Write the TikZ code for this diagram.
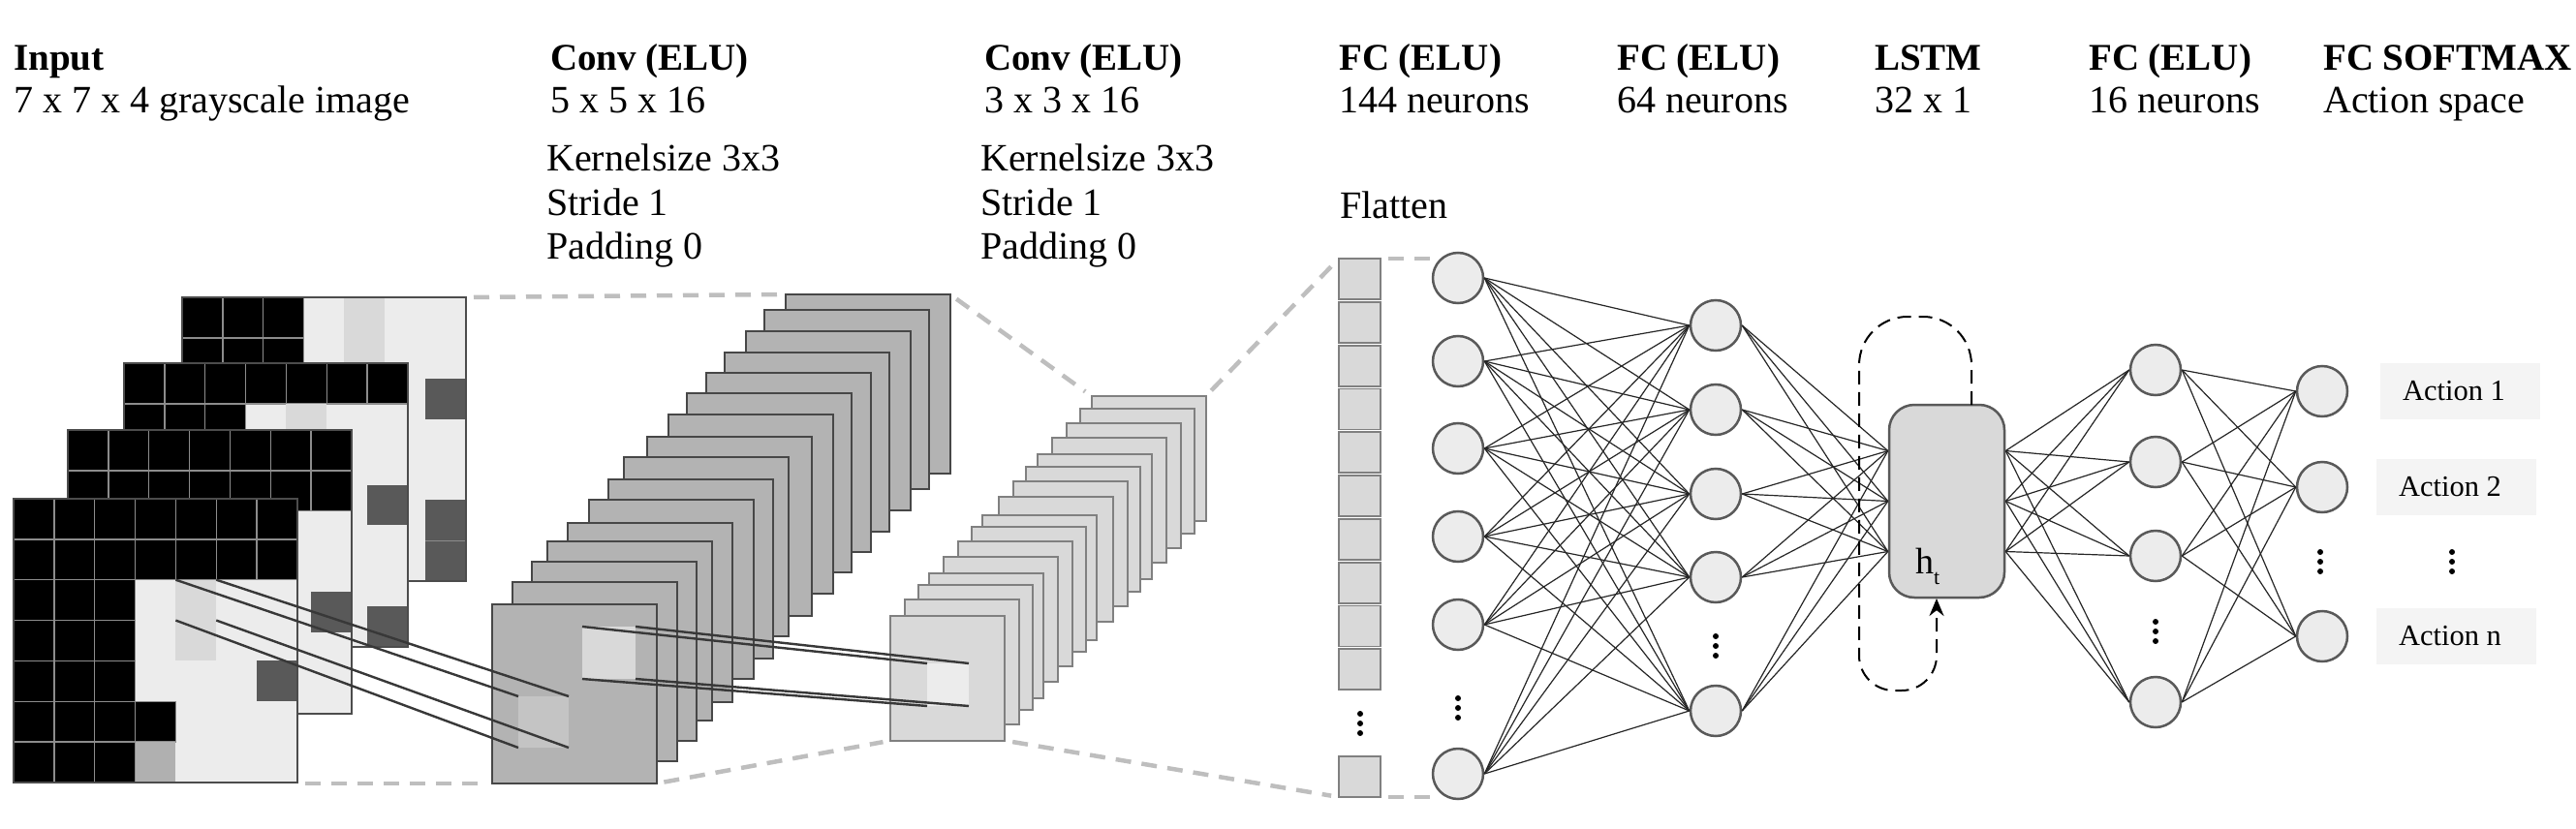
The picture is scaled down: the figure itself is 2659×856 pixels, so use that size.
\documentclass[tikz,border=0pt]{standalone}
\usepackage{fontspec}
\setmainfont{Liberation Serif}
\usetikzlibrary{arrows.meta}
\definecolor{bgcell}{HTML}{ECECEC}
\definecolor{ltcell}{HTML}{D9D9D9}
\definecolor{dkcell}{HTML}{595959}
\definecolor{mdcell}{HTML}{B0B0B0}
\definecolor{hlA}{HTML}{C4C4C4}
\definecolor{convA}{HTML}{B3B3B3}
\definecolor{convB}{HTML}{D9D9D9}
\definecolor{guide}{HTML}{BEBEBE}
\definecolor{neuron}{HTML}{ECECEC}
\definecolor{actbg}{HTML}{F4F4F4}
\tikzset{
  hdr/.style={anchor=base west, inner sep=0pt, font=\fontsize{39}{46}\selectfont\bfseries},
  sub/.style={anchor=base west, inner sep=0pt, font=\fontsize{40}{46}\selectfont},
  guideline/.style={draw=guide, line width=4.5pt, dash pattern=on 16pt off 11pt, shorten >=8pt, shorten <=8pt},
  neur/.style={circle, draw=black!65, fill=neuron, line width=2.5pt, minimum size=52pt, inner sep=0pt},
  wire/.style={draw=black!85, line width=1.2pt},
  kline/.style={draw=black!78, line width=2.4pt},
  dotm/.style={circle, fill=black, inner sep=0pt, minimum size=6pt},
  actbox/.style={fill=actbg, minimum width=165pt, minimum height=58pt, inner sep=0pt, font=\fontsize{30.5}{34}\selectfont},
  mapA/.style={draw=black!72, fill=convA, line width=2pt, minimum width=170pt, minimum height=185pt, inner sep=0pt, outer sep=0pt, anchor=north west},
  mapB/.style={draw=black!50, fill=convB, line width=2pt, minimum width=118pt, minimum height=129pt, inner sep=0pt, outer sep=0pt, anchor=north west},
  flbox/.style={draw=black!50, fill=ltcell, line width=1.8pt, minimum width=43pt, minimum height=42pt, inner sep=0pt, outer sep=0pt, anchor=north west},
  hlbox/.style={inner sep=0pt, outer sep=0pt, anchor=north west},
}
\newcommand{\inblk}[2]{\filldraw[fill=black, draw=black!45, line width=1.5pt] ({#2*41.86},{#1*41.86}) rectangle ++(41.86,41.86);}
\newcommand{\infil}[3]{\fill[#3] ({#2*41.86},{#1*41.86}) rectangle ++(41.86,41.86);}
\newcommand{\inframe}{\draw[black!70, line width=2.5pt] (0,0) rectangle (293,293);}
\begin{document}
\begin{tikzpicture}[x=1pt,y=-1pt]
\useasboundingbox (0,0) rectangle (2659,856);

% ---------- input grids ----------
\begin{scope}[shift={(188,307)}]
\fill[bgcell] (0,0) rectangle (293,293);
\foreach \r in {0,...,6} \foreach \c in {0,1,2} {\inblk{\r}{\c}}
\infil{0}{4}{ltcell}\infil{1}{4}{ltcell}
\infil{2}{6}{dkcell}\infil{5}{6}{dkcell}\infil{6}{6}{dkcell}
\draw[black!45, line width=1.2pt] ({6*41.86},{6*41.86}) -- ++(41.86,0);
\inframe
\end{scope}
\begin{scope}[shift={(128,375)}]
\fill[bgcell] (0,0) rectangle (293,293);
\foreach \c in {0,...,6} {\inblk{0}{\c}}
\foreach \r in {1,...,6} \foreach \c in {0,1,2} {\inblk{\r}{\c}}
\infil{1}{4}{ltcell}
\infil{3}{6}{dkcell}\infil{6}{6}{dkcell}
\inframe
\end{scope}
\begin{scope}[shift={(70,444)}]
\fill[bgcell] (0,0) rectangle (293,293);
\foreach \r in {0,1} \foreach \c in {0,...,6} {\inblk{\r}{\c}}
\foreach \r in {2,...,6} \foreach \c in {0,1,2} {\inblk{\r}{\c}}
\infil{4}{6}{dkcell}
\inframe
\end{scope}
\begin{scope}[shift={(14,515)}]
\fill[bgcell] (0,0) rectangle (293,293);
\foreach \r in {0,1} \foreach \c in {0,...,6} {\inblk{\r}{\c}}
\foreach \r in {2,...,6} \foreach \c in {0,1,2} {\inblk{\r}{\c}}
\inblk{5}{3}
\infil{6}{3}{mdcell}
\infil{2}{4}{ltcell}\infil{3}{4}{ltcell}
\infil{4}{6}{dkcell}
\inframe
\end{scope}
\coordinate (g4tr) at (481,307);
\coordinate (g1br) at (307,809);
\node[hlbox, minimum width=41.86pt, minimum height=41.86pt] (kin) at (181.4,598.7) {};

% ---------- conv 1 stack ----------
\foreach \x/\y [count=\k] in {810.7/306.5,789/323,769.6/345,748/368,728.6/389.7,709/411,689.6/432.6,668/456.5,644/478,627.5/501,608/522.6,586/547,565/567,548.6/588.6,529/610,507.5/633}
  {\node[mapA] (cA\k) at (\x,{\y-9+6.5*(16-\k)/15}) {};}
\node[hlbox, fill=hlA, minimum width=52pt, minimum height=53pt] (hA) at (535,719) {};
\node[hlbox, fill=ltcell, minimum width=55pt, minimum height=54pt] (hB) at (601,647) {};

% ---------- conv 2 stack ----------
\foreach \x/\y [count=\k] in {1126.7/409,1115/421.7,1101.3/436.7,1086.3/452.3,1071/469.3,1059.3/481.7,1046/496.7,1031/513.3,1014.3/531.7,1002.7/544,989/559.3,974.3/575.3,959/592,947.7/604.3,934/619.3,919.3/635.7}
  {\node[mapB] (cB\k) at (\x,\y) {};}
\node[hlbox, fill=bgcell, minimum width=43pt, minimum height=44pt] (hC) at (957,685) {};

% ---------- flatten ----------
\foreach \k in {1,...,10} {\node[flbox] (fl\k) at (1382,{267+44.8*(\k-1)}) {};}
\node[flbox] (fl11) at (1382,781) {};
\coordinate (g7e) at (1480,267);
\coordinate (g8e) at (1480,823);

% ---------- guide lines ----------
\draw[guideline] (g4tr) -- (cA1.north west);
\draw[guideline] (g1br) -- (cA16.south west);
\draw[guideline] (cA1.north east) -- (cB1.north west);
\draw[guideline] (cA16.south east) -- (cB16.south west);
\draw[guideline] (cB1.north east) -- (fl1.north west);
\draw[guideline] (cB16.south east) -- (fl11.south west);
\draw[guideline, shorten >=0pt] (fl1.north east) -- (g7e);
\draw[guideline, shorten >=0pt] (fl11.south east) -- (g8e);

% ---------- kernel lines ----------
\foreach \a in {north west,north east,south west,south east} {\draw[kline] (kin.\a) -- (hA.\a);}
\foreach \a in {north west,north east,south west,south east} {\draw[kline] (hB.\a) -- (hC.\a);}

% ---------- neurons ----------
\foreach \n/\y in {f1a/287,f1b/373,f1c/463,f1d/554,f1e/645,f1f/799} {\node[neur] (\n) at (1505,\y) {};}
\foreach \n/\y in {f2a/336,f2b/423,f2c/510,f2d/596,f2e/734} {\node[neur] (\n) at (1771,\y) {};}
\foreach \n/\y in {f3a/382,f3b/477,f3c/574,f3d/725} {\node[neur] (\n) at (2225,\y) {};}
\foreach \n/\y in {f4a/404,f4b/503,f4c/657} {\node[neur] (\n) at (2397,\y) {};}

\node[draw=black!65, fill=ltcell, line width=2.5pt, rounded corners=26pt, minimum width=119pt, minimum height=199pt, inner sep=0pt] (lstm) at (2009.5,517.5) {};
\coordinate (li1) at ([yshift=52pt]lstm.west);
\coordinate (li2) at (lstm.west);
\coordinate (li3) at ([yshift=-52pt]lstm.west);
\coordinate (lo1) at ([yshift=52pt]lstm.east);
\coordinate (lo2) at (lstm.east);
\coordinate (lo3) at ([yshift=-52pt]lstm.east);

\foreach \a in {f1a,f1b,f1c,f1d,f1e,f1f} \foreach \b in {f2a,f2b,f2c,f2d,f2e} {\draw[wire] (\a.east) -- (\b.west);}
\foreach \a in {f2a,f2b,f2c,f2d,f2e} \foreach \b in {li1,li2,li3} {\draw[wire] (\a.east) -- (\b);}
\foreach \a in {lo1,lo2,lo3} \foreach \b in {f3a,f3b,f3c,f3d} {\draw[wire] (\a) -- (\b.west);}
\foreach \a in {f3a,f3b,f3c,f3d} \foreach \b in {f4a,f4b,f4c} {\draw[wire] (\a.east) -- (\b.west);}

% recurrent loop
\coordinate (lpt) at (2035,418);
\coordinate (lpb) at (1999,618);
\draw[black, line width=2pt, dash pattern=on 14pt off 8pt, -{Stealth[length=18pt,width=15pt]}]
  (lpt) [rounded corners=50pt] -- (2035,327) -- (1919,327) [rounded corners=36pt] -- (1919,713) -- (1999,713) [sharp corners] -- (lpb);
\node[anchor=base west, inner sep=0pt, font=\fontsize{38}{40}\selectfont] (ht) at (1977,592) {h\raisebox{-11pt}{\fontsize{22}{24}\selectfont t}};

% dots
\foreach \n/\x/\y in {da1/1404/737,da2/1404/747,da3/1404/757,
  db1/1505/721,db2/1505/731,db3/1505/741,
  dc1/1771/657,dc2/1771/667,dc3/1771/677,
  dd1/2225/642,dd2/2225/652,dd3/2225/662,
  de1/2395/570,de2/2395/580,de3/2395/590,
  df1/2531/570,df2/2531/580,df3/2531/590} {\node[dotm] (\n) at (\x,\y) {};}

% actions
\node[actbox] (a1) at (2539,404) {Action 1\hspace*{12pt}};
\node[actbox] (a2) at (2535,503) {Action 2\hspace*{12pt}};
\node[actbox] (a3) at (2535,657) {Action n\hspace*{12pt}};

% ---------- text ----------
\node[hdr] (t1) at (14,73) {Input};
\node[sub] (t2) at (14,117) {7 x 7 x 4 grayscale image};
\node[hdr] (t3) at (568,73) {Conv (ELU)};
\node[sub] (t4) at (568,117) {5 x 5 x 16};
\node[sub] (t5) at (564,176) {Kernelsize 3x3};
\node[sub] (t6) at (564,222) {Stride 1};
\node[sub] (t7) at (564,267) {Padding 0};
\node[hdr] (t8) at (1016,73) {Conv (ELU)};
\node[sub] (t9) at (1016,117) {3 x 3 x 16};
\node[sub] (t10) at (1012,176) {Kernelsize 3x3};
\node[sub] (t11) at (1012,222) {Stride 1};
\node[sub] (t12) at (1012,267) {Padding 0};
\node[hdr] (t13) at (1382,73) {FC (ELU)};
\node[sub] (t14) at (1382,117) {144 neurons};
\node[sub] (t15) at (1383,225) {Flatten};
\node[hdr] (t16) at (1669,73) {FC (ELU)};
\node[sub] (t17) at (1669,117) {64 neurons};
\node[hdr] (t18) at (1935,73) {LSTM};
\node[sub] (t19) at (1935,117) {32 x 1};
\node[hdr] (t20) at (2156,73) {FC (ELU)};
\node[sub] (t21) at (2156,117) {16 neurons};
\node[hdr] (t22) at (2398,73) {FC SOFTMAX};
\node[sub] (t23) at (2398,117) {Action space};
\end{tikzpicture}
\end{document}
